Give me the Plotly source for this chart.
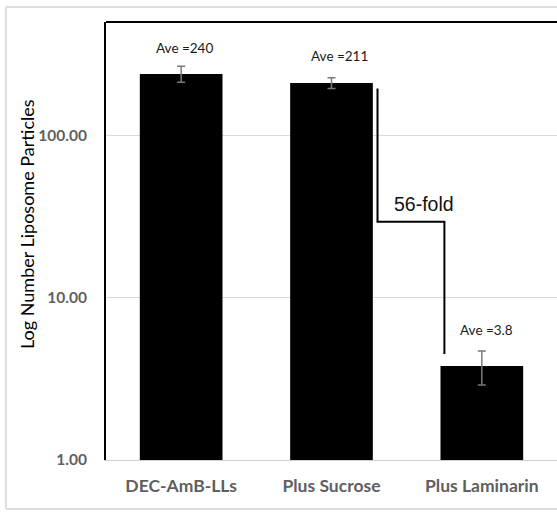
import plotly.graph_objects as go
import numpy as np

categories = ["DEC-AmB-LLs", "Plus Sucrose", "Plus Laminarin"]
means = [240, 211, 3.8]
errors = [27, 16, 0.9]
labels = ["Ave =240", "Ave =211", "Ave =3.8"]
y_ticks = [1, 10, 100]
y_ticktext = ["1.00", "10.00", "100.00"]
fold_text = "56-fold"
bracket_x = [1.306, 1.306, 1.751, 1.751]
bracket_y = [195, 29.4, 29.4, 4.5]

xpos = list(range(len(categories)))

fig = go.Figure()
fig.add_trace(go.Bar(
    x=xpos, y=means, width=0.55,
    marker=dict(color="black", line=dict(width=0)),
    error_y=dict(type="data", array=errors, visible=True,
                 color="#7a7a7a", thickness=1.5, width=4),
    showlegend=False, hoverinfo="skip",
))
fig.add_trace(go.Scatter(
    x=bracket_x, y=bracket_y, mode="lines",
    line=dict(color="black", width=2), showlegend=False,
    hoverinfo="skip",
))

label_dx = [3.5, 7.5, 4.5]
label_dy = [8, 12, 11]
for i, (m, e, t) in enumerate(zip(means, errors, labels)):
    fig.add_annotation(
        x=xpos[i], y=np.log10(m + e), text=t, showarrow=False,
        xanchor="center", yanchor="bottom", yshift=label_dy[i], xshift=label_dx[i],
        font=dict(family="Lato", size=13.5, color="#1a1a1a"),
    )

fig.add_annotation(
    x=1.613, y=np.log10(bracket_y[1]),
    text=fold_text, showarrow=False, xanchor="center", yanchor="bottom", yshift=5,
    font=dict(family="Liberation Sans", size=19.5, color="#111111"),
)

fig.add_annotation(
    xref="paper", yref="paper", x=-0.175, y=0.539,
    xanchor="center", yanchor="middle",
    text="Log Number Liposome Particles", textangle=-90, showarrow=False,
    font=dict(family="Lato", size=18, color="black"),
)

# top border line of plot area
fig.add_shape(type="line", xref="paper", yref="paper", x0=0, x1=1.1, y0=1, y1=1,
              line=dict(color="black", width=2))
# outer light frame (left, top, bottom edges; right edge lies beyond the crop)
frame = dict(color="#dddddd", width=2)
fig.add_shape(type="line", xref="paper", yref="paper", x0=-0.222, x1=-0.222,
              y0=-0.112, y1=1.034, line=frame, layer="below")
fig.add_shape(type="line", xref="paper", yref="paper", x0=-0.222, x1=1.1,
              y0=1.034, y1=1.034, line=frame, layer="below")
fig.add_shape(type="line", xref="paper", yref="paper", x0=-0.222, x1=1.1,
              y0=-0.112, y1=-0.112, line=frame, layer="below")

fig.update_layout(
    width=557, height=514,
    margin=dict(l=106, r=0, t=22, b=54),
    paper_bgcolor="white", plot_bgcolor="white",
)
fig.update_xaxes(
    range=[-0.5, 2.5], tickvals=xpos, ticktext=categories,
    showline=True, linecolor="#d0d0d0", linewidth=1, showgrid=False,
    ticks="", ticklabelstandoff=10,
    tickfont=dict(family="Lato", size=17.5, color="#5f5f5f", weight="bold"),
    zeroline=False,
)
fig.update_yaxes(
    type="log", range=[0, 2.7], tickvals=y_ticks, ticktext=y_ticktext,
    showline=True, linecolor="black", linewidth=2,
    showgrid=True, gridcolor="#d9d9d9", gridwidth=1,
    ticks="", ticklabelstandoff=14,
    tickfont=dict(family="Lato", size=15.5, color="#5f5f5f", weight="bold"),
    zeroline=False,
)

fig.write_html(
    "out.html",
    config={"displayModeBar": False},
    post_script="document.body.style.margin='0';document.body.style.padding='0';"
                "document.body.style.overflow='hidden';",
)
